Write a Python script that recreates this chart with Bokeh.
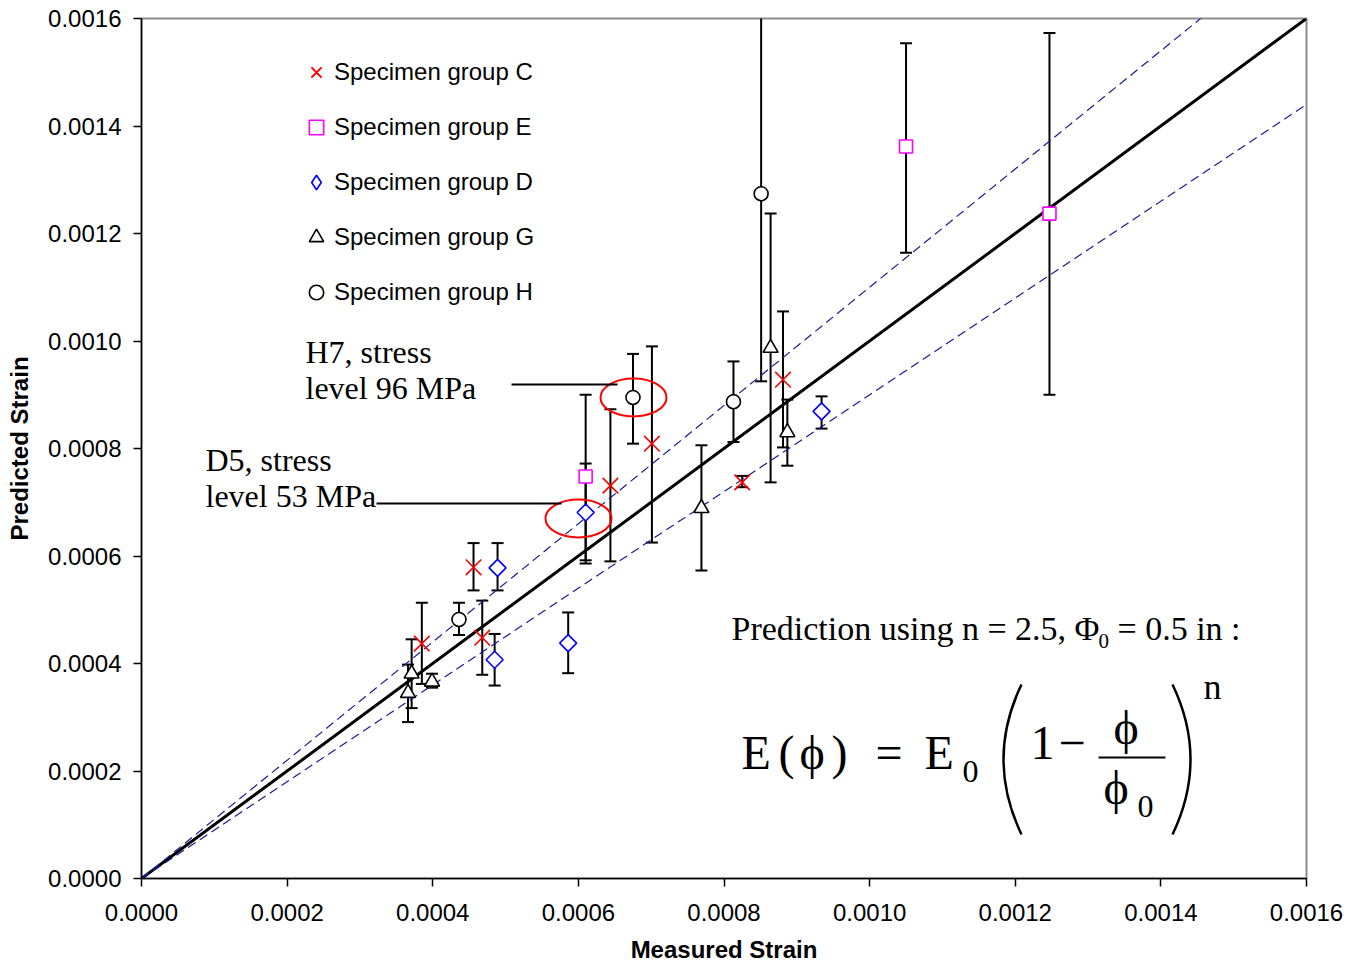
import math
from bokeh.plotting import figure
from bokeh.models import (Range1d, FixedTicker, PrintfTickFormatter, ColumnDataSource,
                          Whisker, TeeHead, Label, Legend, LegendItem)
from bokeh.embed import file_html
from bokeh.resources import INLINE

# ---------------- data ----------------
tick_values = [0.0, 0.0002, 0.0004, 0.0006, 0.0008, 0.0010, 0.0012, 0.0014, 0.0016]

# Specimen group C (red x)
C_x = [0.000456, 0.000385, 0.000468, 0.000644, 0.000701, 0.000825, 0.000881]
C_y = [0.000579, 0.000437, 0.000448, 0.000731, 0.000809, 0.000737, 0.000928]
C_hi = [0.000624, 0.000513, 0.000517, 0.000873, 0.000990, 0.000749, 0.001055]
C_lo = [0.000536, 0.000362, 0.000379, 0.000590, 0.000625, 0.000728, 0.000802]

# Specimen group E (magenta squares)
E_x = [0.000610, 0.001050, 0.001247]
E_y = [0.000748, 0.001362, 0.001237]
E_hi = [0.000900, 0.001554, 0.001573]
E_lo = [0.000592, 0.001164, 0.000900]

# Specimen group D (blue diamonds)
D_x = [0.000489, 0.000485, 0.000586, 0.000610, 0.000934]
D_y = [0.000578, 0.000407, 0.000438, 0.000681, 0.000869]
D_hi = [0.000624, 0.000455, 0.000495, 0.000772, 0.000897]
D_lo = [0.000536, 0.000359, 0.000382, 0.000586, 0.000837]

# Specimen group G (triangles)
G_x = [0.000371, 0.000366, 0.000399, 0.000769, 0.000864, 0.000887]
G_y = [0.000381, 0.000345, 0.000366, 0.000689, 0.000987, 0.000830]
G_hi = [0.000445, 0.000398, 0.000381, 0.000806, 0.001237, 0.000891]
G_lo = [0.000317, 0.000291, 0.000355, 0.000573, 0.000737, 0.000768]

# Specimen group H (circles)
H_x = [0.000436, 0.000675, 0.000813, 0.000851]
H_y = [0.000482, 0.000895, 0.000887, 0.001274]
H_hi = [0.000513, 0.000976, 0.000962, 0.001620]
H_lo = [0.000453, 0.000809, 0.000812, 0.000925]

# prediction line (measured = predicted) and +/-10 % bounds
ref_x = [0.0, 0.0016]
ref_y = [0.0, 0.0016]
up_x = [0.0, 0.00148]
up_y = [0.0, 0.001628]
lo_x = [0.0, 0.00162]
lo_y = [0.0, 0.001458]

# ---------------- figure ----------------
W, H = 1357, 965
L, R, T, B = 141, 51, 18, 87
X_MAX = tick_values[-1]
Y_MAX = tick_values[-1]
FW, FH = W - L - R, H - T - B


def dx(px):
    return (px - L) / FW * X_MAX


def dy(py):
    return (T + FH - py) / FH * Y_MAX


p = figure(width=W, height=H, output_backend="svg", toolbar_location=None,
           x_range=Range1d(0, X_MAX), y_range=Range1d(0, Y_MAX),
           min_border_left=L, min_border_right=R, min_border_top=T, min_border_bottom=B,
           background_fill_color="white", border_fill_color="white")
p.outline_line_color = "#8c8c8c"
p.outline_line_width = 2
p.xgrid.visible = False
p.ygrid.visible = False

for ax in (p.xaxis[0], p.yaxis[0]):
    ax.ticker = FixedTicker(ticks=tick_values)
    ax.formatter = PrintfTickFormatter(format="%.4f")
    ax.major_tick_in = 0
    ax.major_tick_out = 8
    ax.major_tick_line_color = "black"
    ax.major_tick_line_width = 1.5
    ax.minor_tick_line_color = None
    ax.axis_line_color = "black"
    ax.axis_line_width = 1.5
    ax.major_label_text_font = "Liberation Sans"
    ax.major_label_text_font_size = "24px"
    ax.major_label_text_color = "black"
    ax.axis_label_text_font = "Liberation Sans"
    ax.axis_label_text_font_size = "24px"
    ax.axis_label_text_font_style = "bold"
    ax.axis_label_text_color = "black"

p.xaxis.axis_label = "Measured Strain"
p.yaxis.axis_label = "Predicted Strain"
p.xaxis.major_label_standoff = 17
p.xaxis.axis_label_standoff = 12
p.yaxis.major_label_standoff = 12
p.yaxis.axis_label_standoff = 12

# lines
p.line(ref_x, ref_y, line_color="black", line_width=3)
p.line(up_x, up_y, line_color="#1c1c94", line_width=1.2, line_dash="9 5")
p.line(lo_x, lo_y, line_color="#1c1c94", line_width=1.2, line_dash="9 5")


def add_group(xs, ys, hi, lo, marker, color, size, angle=0.0):
    inside = [i for i in range(len(xs)) if hi[i] <= Y_MAX]
    outside = [i for i in range(len(xs)) if hi[i] > Y_MAX]
    for idx, top_head in ((inside, True), (outside, False)):
        if not idx:
            continue
        s = ColumnDataSource(dict(x=[xs[i] for i in idx], upper=[hi[i] for i in idx],
                                  lower=[lo[i] for i in idx]))
        w = Whisker(source=s, base="x", upper="upper", lower="lower", dimension="height",
                    line_color="black", line_width=2, level="underlay",
                    upper_head=TeeHead(size=12, line_color="black", line_width=2) if top_head else None,
                    lower_head=TeeHead(size=12, line_color="black", line_width=2))
        p.add_layout(w)
    src = ColumnDataSource(dict(x=xs, y=ys))
    return p.scatter("x", "y", source=src, marker=marker, size=size, angle=angle,
                     line_color=color, fill_color="white", line_width=1.6)


rC = add_group(C_x, C_y, C_hi, C_lo, "x", "#ff0000", 22)
rE = add_group(E_x, E_y, E_hi, E_lo, "square", "#ff00ff", 13)
rD = add_group(D_x, D_y, D_hi, D_lo, "square", "#0000ff", 12, angle=math.pi / 4)
rG = add_group(G_x, G_y, G_hi, G_lo, "triangle", "black", 15)
rH = add_group(H_x, H_y, H_hi, H_lo, "circle", "black", 14)

# legend-only key glyphs (legend glyphs are drawn unrotated and at a fixed size)
nan = float("nan")
rD_key = p.scatter(x=[nan], y=[nan], marker="diamond", line_color="#0000ff",
                   fill_color="white", line_width=1.6)
rC_key = p.scatter(x=[nan], y=[nan], marker="x", line_color="#ff0000", line_width=2)

legend = Legend(items=[LegendItem(label="Specimen group C", renderers=[rC_key]),
                       LegendItem(label="Specimen group E", renderers=[rE]),
                       LegendItem(label="Specimen group D", renderers=[rD_key]),
                       LegendItem(label="Specimen group G", renderers=[rG]),
                       LegendItem(label="Specimen group H", renderers=[rH])],
                location=(157, 568), orientation="vertical",
                glyph_width=36, glyph_height=36, label_height=36, spacing=19,
                padding=0, margin=0, label_standoff=0,
                label_text_font="Liberation Sans", label_text_font_size="24px",
                label_text_color="black",
                background_fill_alpha=0, border_line_alpha=0)
p.add_layout(legend)

# ---------------- annotations ----------------
# highlight ellipses and leader lines
p.ellipse(x=[dx(633), dx(578)], y=[dy(397), dy(518)], width=66, height=38,
          width_units="screen", height_units="screen",
          fill_color=None, line_color="#ff0000", line_width=2)
p.segment(x0=[dx(511), dx(376)], y0=[dy(384), dy(503)],
          x1=[dx(617), dx(561)], y1=[dy(384), dy(503)], line_color="black", line_width=2)


def lab(text, px, py, size, font="Liberation Serif"):
    # py is the wanted baseline in pixels; compensate the renderer's baseline offset
    p.add_layout(Label(x=dx(px), y=dy(py - 0.37 * size), text=text, text_font=font,
                       text_font_size=f"{size}px", text_align="left",
                       text_baseline="alphabetic", text_color="black"))


lab("H7, stress", 305, 363, 32)
lab("level 96 MPa", 305, 399, 32)
lab("D5, stress", 205, 471, 32)
lab("level 53 MPa", 205, 507, 32)

lab("Prediction using n = 2.5, \u03a6", 731, 641, 34)
lab("0", 1098, 648, 21)
lab("= 0.5 in :", 1117, 641, 34)

# equation E(phi) = E0 (1 - phi/phi0)^n
lab("E", 741, 770, 48)
lab("(", 778, 770, 48)
lab("\u03d5", 799, 770, 48)
lab(")", 831, 770, 48)
lab("=", 875, 770, 48)
lab("E", 924, 770, 48)
lab("0", 962, 783, 32)
lab("1", 1030, 760, 48)
lab("\u2212", 1058, 760, 48)
lab("\u03d5", 1113, 745, 48)
lab("\u03d5", 1103, 805, 48)
lab("0", 1137, 818, 32)
lab("n", 1203, 700, 36)
p.segment(x0=[dx(1098)], y0=[dy(757)], x1=[dx(1165)], y1=[dy(757)],
          line_color="black", line_width=2)
p.quadratic(x0=[dx(1021), dx(1172)], y0=[dy(684), dy(684)],
            x1=[dx(1021), dx(1172)], y1=[dy(834), dy(834)],
            cx=[dx(985), dx(1208)], cy=[dy(759), dy(759)],
            line_color="black", line_width=2.5)

open("out.html", "w").write(file_html(p, INLINE))
